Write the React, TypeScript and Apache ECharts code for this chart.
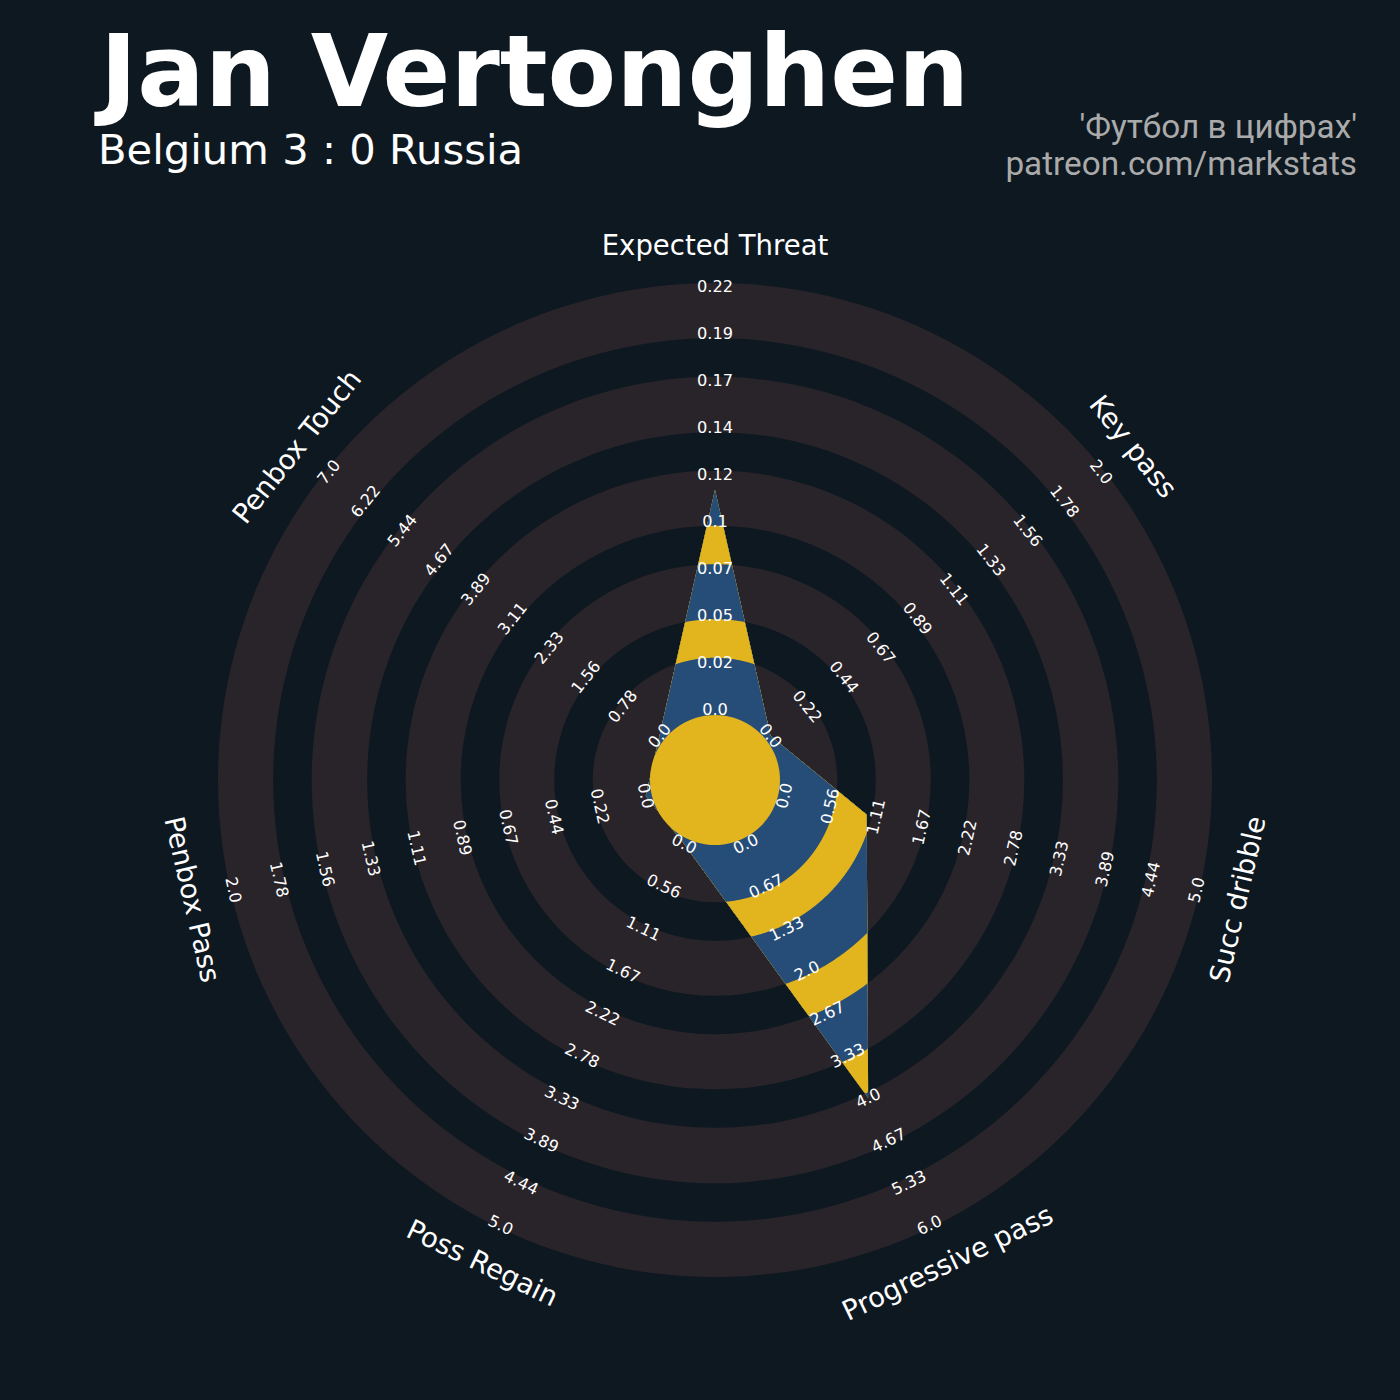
import React, { useEffect, useRef } from "react";
import * as echarts from "echarts";

// ---------- data ----------
const PARAMS = [
  "Expected Threat",
  "Key pass",
  "Succ dribble",
  "Progressive pass",
  "Poss Regain",
  "Penbox Pass",
  "Penbox Touch",
];
const VALUES = [0.112, 0, 1, 4, 0, 0, 0];
const RANGE_MIN = [0, 0, 0, 0, 0, 0, 0];
const RANGE_MAX = [0.216, 2, 5, 6, 5, 2, 7];

const TICKS_ET = ["0.0", "0.02", "0.05", "0.07", "0.1", "0.12", "0.14", "0.17", "0.19", "0.22"];
const TICKS_KEY = ["0.0", "0.22", "0.44", "0.67", "0.89", "1.11", "1.33", "1.56", "1.78", "2.0"];
const TICKS_DRIB = ["0.0", "0.56", "1.11", "1.67", "2.22", "2.78", "3.33", "3.89", "4.44", "5.0"];
const TICKS_PROG = ["0.0", "0.67", "1.33", "2.0", "2.67", "3.33", "4.0", "4.67", "5.33", "6.0"];
const TICKS_REGAIN = ["0.0", "0.56", "1.11", "1.67", "2.22", "2.78", "3.33", "3.89", "4.44", "5.0"];
const TICKS_PBPASS = ["0.0", "0.22", "0.44", "0.67", "0.89", "1.11", "1.33", "1.56", "1.78", "2.0"];
const TICKS_PBTOUCH = ["0.0", "0.78", "1.56", "2.33", "3.11", "3.89", "4.67", "5.44", "6.22", "7.0"];
const TICKS = [TICKS_ET, TICKS_KEY, TICKS_DRIB, TICKS_PROG, TICKS_REGAIN, TICKS_PBPASS, TICKS_PBTOUCH];

const TITLE = "Jan Vertonghen";
const SUBTITLE = "Belgium 3 : 0 Russia";
const CREDIT_1 = "'Футбол в цифрах'";
const CREDIT_2 = "patreon.com/markstats";

// ---------- style / layout ----------
const BG = "#0e1821";
const RING_GRAY = "#28242a";
const BLUE = "#264d78";
const YELLOW = "#e2b41d";
const STEPS = 9; // tick steps per axis
// radius axis in "tick step" units
const R_MIN = -71 / 47;
const R_MAX = 426 / 47;
// ring edges (step units), outer -> inner; alternate gray/dark background
const BAND_EDGES = [R_MAX, 7.89, 7.07, 5.89, 5.07, 3.9, 3.08, 1.91, 1.09];
const CENTER_S = -6 / 47;
const NAME_S = (535.5 - 71) / 47;

const norm = (v: number, i: number) =>
  ((v - RANGE_MIN[i]) / (RANGE_MAX[i] - RANGE_MIN[i])) * STEPS;

export default function App() {
  const ref = useRef<HTMLDivElement>(null);
  useEffect(() => {
    const chart = echarts.init(ref.current!, null, { renderer: "svg" });

    const renderRings = (params: any, api: any) => {
      const cs = params.coordSys;
      const cx = cs.cx, cy = cs.cy;
      const radOf = (s: number) => {
        const p = api.coord([s, 0]);
        return Math.hypot(p[0] - cx, p[1] - cy);
      };
      const children: any[] = [];
      BAND_EDGES.forEach((s, k) => {
        children.push({
          type: "circle",
          shape: { cx, cy, r: radOf(s) },
          style: { fill: k % 2 === 0 ? RING_GRAY : BG },
        });
      });
      return { type: "group", children };
    };

    const renderPolygon = (params: any, api: any) => {
      if (params.dataIndex !== 0) return null;
      const cs = params.coordSys;
      const cx = cs.cx, cy = cs.cy;
      const radOf = (s: number) => {
        const p = api.coord([s, 0]);
        return Math.hypot(p[0] - cx, p[1] - cy);
      };
      const pts: number[][] = VALUES.map((v, i) => api.coord([norm(v, i), i]));
      const rayHit = (dx: number, dy: number) => {
        let best = Infinity;
        for (let k = 0; k < pts.length; k++) {
          const A = pts[k], B = pts[(k + 1) % pts.length];
          const ex = B[0] - A[0], ey = B[1] - A[1];
          const wx = A[0] - cx, wy = A[1] - cy;
          const den = dx * ey - dy * ex;
          if (Math.abs(den) < 1e-12) continue;
          const t = (wx * ey - wy * ex) / den;
          const u = (wx * dy - wy * dx) / den;
          if (t >= 0 && u >= -1e-9 && u <= 1 + 1e-9 && t < best) best = t;
        }
        return best;
      };
      const angles: number[] = [];
      const N = 1440;
      for (let k = 0; k < N; k++) angles.push((2 * Math.PI * k) / N - Math.PI);
      pts.forEach((p) => angles.push(Math.atan2(p[1] - cy, p[0] - cx)));
      angles.sort((a, b) => a - b);
      const rho = angles.map((a) => rayHit(Math.cos(a), Math.sin(a)));
      const children: any[] = [];
      BAND_EDGES.forEach((s, k) => {
        const R = radOf(s);
        const points = angles.map((a, j) => {
          const r = Math.min(rho[j], R);
          return [cx + r * Math.cos(a), cy + r * Math.sin(a)];
        });
        children.push({
          type: "polygon",
          shape: { points },
          style: { fill: k % 2 === 0 ? BLUE : YELLOW },
        });
      });
      children.push({
        type: "circle",
        shape: { cx, cy, r: radOf(CENTER_S) },
        style: { fill: YELLOW },
      });
      return { type: "group", children };
    };

    const renderLabels = (params: any, api: any) => {
      const cs = params.coordSys;
      const cx = cs.cx, cy = cs.cy;
      const pt = (s: number, i: number) => {
        const p0 = api.coord([0, i]);
        const p9 = api.coord([STEPS, i]);
        return [p0[0] + ((p9[0] - p0[0]) * s) / STEPS, p0[1] + ((p9[1] - p0[1]) * s) / STEPS];
      };
      const rotOf = (p: number[]) => {
        const phi = Math.atan2(-(p[1] - cy), p[0] - cx);
        return phi >= -1e-6 ? phi - Math.PI / 2 : phi + Math.PI / 2;
      };
      const children: any[] = [];
      PARAMS.forEach((name, i) => {
        TICKS[i].forEach((t, j) => {
          const p = pt(j, i);
          children.push({
            type: "text",
            x: p[0],
            y: p[1],
            rotation: rotOf(p),
            style: {
              text: t,
              fill: "#ffffff",
              fontSize: 16.2,
              fontFamily: "DejaVu Sans",
              align: "center",
              verticalAlign: "middle",
            },
          });
        });
        const q = pt(NAME_S, i);
        children.push({
          type: "text",
          x: q[0],
          y: q[1],
          rotation: rotOf(q),
          style: {
            text: name,
            fill: "#ffffff",
            fontSize: 27.5,
            fontFamily: "DejaVu Sans",
            align: "center",
            verticalAlign: "middle",
          },
        });
      });
      return { type: "group", children };
    };

    const option: any = {
      animation: false,
      backgroundColor: BG,
      polar: { center: [715, 780], radius: 497 },
      angleAxis: {
        type: "value",
        min: 0,
        max: PARAMS.length,
        startAngle: 90,
        clockwise: true,
        show: false,
      },
      radiusAxis: { type: "value", min: R_MIN, max: R_MAX, show: false },
      series: [
        { type: "custom", coordinateSystem: "polar", z: 1, data: [[0, 0]], renderItem: renderRings },
        {
          type: "custom",
          coordinateSystem: "polar",
          z: 2,
          data: VALUES.map((v, i) => [norm(v, i), i]),
          renderItem: renderPolygon,
        },
        { type: "custom", coordinateSystem: "polar", z: 3, data: [[0, 0]], renderItem: renderLabels },
      ],
      graphic: [
        {
          type: "text",
          x: 100,
          y: 71,
          style: {
            text: TITLE,
            fill: "#ffffff",
            fontSize: 100,
            fontWeight: "bold",
            fontFamily: "DejaVu Sans",
            align: "left",
            verticalAlign: "middle",
          },
        },
        {
          type: "text",
          x: 98,
          y: 149,
          style: {
            text: SUBTITLE,
            fill: "#ffffff",
            fontSize: 41.7,
            fontFamily: "DejaVu Sans",
            align: "left",
            verticalAlign: "middle",
          },
        },
        {
          type: "text",
          x: 1357,
          y: 126,
          style: {
            text: CREDIT_1,
            fill: "#aaaaaa",
            fontSize: 33.3,
            fontFamily: "Roboto",
            align: "right",
            verticalAlign: "middle",
          },
        },
        {
          type: "text",
          x: 1357,
          y: 163,
          style: {
            text: CREDIT_2,
            fill: "#aaaaaa",
            fontSize: 33.3,
            fontFamily: "Roboto",
            align: "right",
            verticalAlign: "middle",
          },
        },
      ],
    };
    chart.setOption(option);
    return () => chart.dispose();
  }, []);
  return (
    <div
      ref={ref}
      style={{ position: "absolute", left: 0, top: 0, width: 1400, height: 1400 }}
    />
  );
}
